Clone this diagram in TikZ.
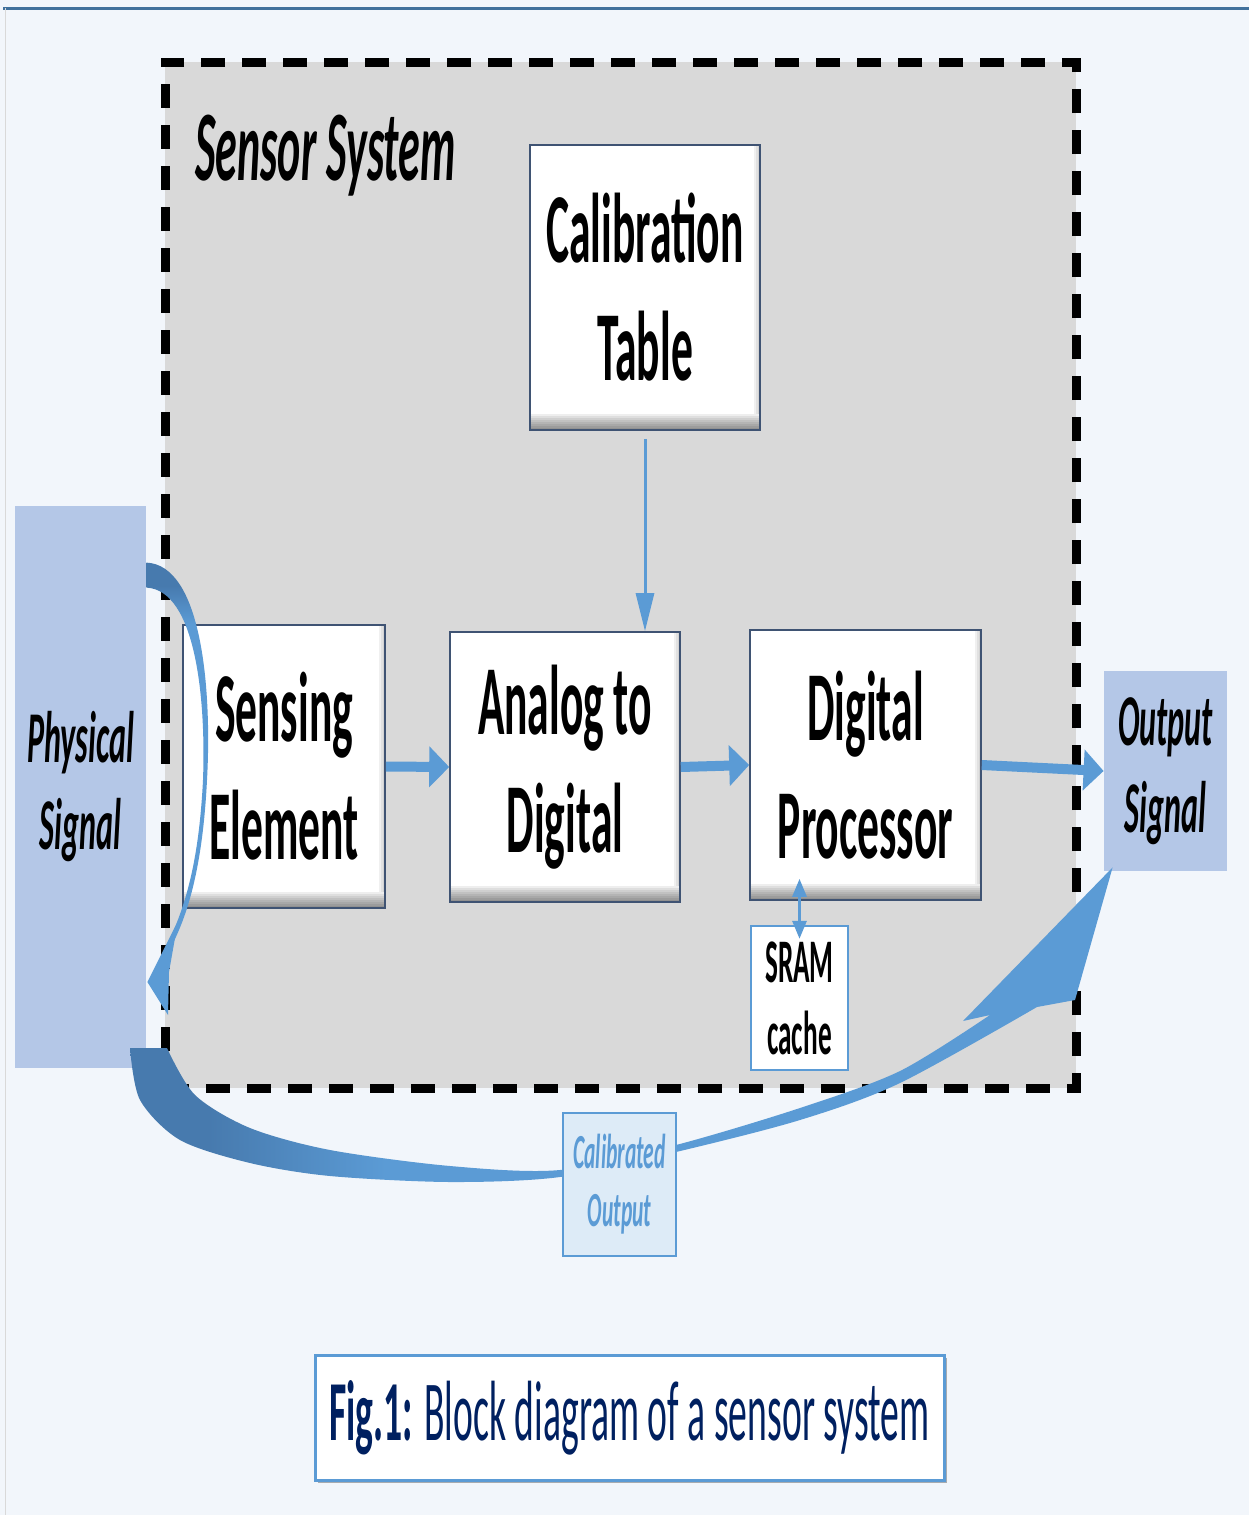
\documentclass[tikz,border=0pt]{standalone}
\usepackage{fontspec}
\setmainfont{Carlito}
\newfontfamily\narrowfont[FakeStretch=0.44]{Carlito}
\usepackage{tikz}
\usetikzlibrary{calc}
\usetikzlibrary{arrows.meta,shadows}

\definecolor{pagebg}{HTML}{F2F6FB}
\definecolor{edgeblue}{HTML}{41719C}
\definecolor{sysgray}{HTML}{D9D9D9}
\definecolor{signalblue}{HTML}{B4C7E7}
\definecolor{arrowblue}{HTML}{5B9BD5}
\definecolor{darkarrow}{HTML}{477AAE}
\definecolor{paleblue}{HTML}{DDEBF7}
\definecolor{navy}{HTML}{002060}
\definecolor{boxline}{HTML}{3F5373}

% dark start of the two feedback arrows
\pgfdeclarehorizontalshading{swoosh}{100bp}{color(0bp)=(darkarrow); color(29bp)=(darkarrow); color(38bp)=(arrowblue); color(100bp)=(arrowblue)}
\pgfdeclareverticalshading{hook}{100bp}{color(0bp)=(arrowblue); color(67bp)=(arrowblue); color(72bp)=(darkarrow); color(100bp)=(darkarrow)}

\begin{document}
\begin{tikzpicture}[x=0.5pt,y=-0.5pt]
	\tikzset{block/.style={draw=boxline,line width=0.8pt,fill=white,align=center,inner sep=0pt,
	    font=\narrowfont\bfseries\fontsize{49.5}{59}\selectfont,
	    path picture={
	      \foreach \k in {1,...,8}
	        \fill[black,opacity=0.065] ([yshift=\k pt]path picture bounding box.south west) rectangle (path picture bounding box.south east);
	      \foreach \k in {1,...,3}
	        \fill[black,opacity=0.06] ([xshift=-\k pt]path picture bounding box.north east) rectangle ([yshift=8pt]path picture bounding box.south east);}}}
	\tikzset{signal/.style={fill=signalblue,align=center,inner sep=0pt,
	    font=\narrowfont\bfseries\itshape\fontsize{36.5}{43.5}\selectfont}}
	\tikzset{fat/.style={arrowblue,line width=5pt,-{Triangle[length=10pt,width=20pt]}}}
	\tikzset{feed/.style={arrowblue,line width=1.5pt,-{Triangle[length=19pt,width=9pt]}}}
	\tikzset{link/.style={arrowblue,line width=1.5pt,{Triangle[length=9pt,width=7pt]}-{Triangle[length=9pt,width=7pt]}}}

	% page
	\useasboundingbox (0,0) rectangle (1249,1515);
	\fill[pagebg] (0,0) rectangle (1249,1515);
	\draw[edgeblue,line width=1.5pt] (3,8) -- (1249,8);
	\draw[black!15,line width=0.5pt] (5,8) -- (5,1515);

	% vertices
	\node[draw=black,fill=sysgray,line width=4.5pt,dash pattern=on 12pt off 8.5pt,
	    minimum width=455.5pt,minimum height=513pt,inner sep=0pt] (sys) at (620.5,575) {};
	\node[anchor=base west,inner sep=0pt,
	    font=\narrowfont\bfseries\itshape\fontsize{50}{60}\selectfont] (title) at (195,180) {Sensor System};
	\node[block,minimum width=115pt,minimum height=142.5pt] (calib) at (645,287.5) {Calibration\\Table};
	\node[block,minimum width=101pt,minimum height=141.5pt] (sense) at (284,766.5) {Sensing\\Element};
	\node[block,minimum width=115pt,minimum height=135pt] (adc) at (565,767) {Analog to\\Digital};
	\node[block,minimum width=115.5pt,minimum height=135pt] (dsp) at (865.5,765) {Digital\\Processor};
	\node[draw=arrowblue,line width=1.2pt,fill=white,align=center,inner sep=0pt,
	    minimum width=48.5pt,minimum height=72pt,
	    font=\narrowfont\bfseries\fontsize{31}{36}\selectfont] (sram) at (799.5,998) {SRAM\\cache};
	\node[signal,minimum width=65.5pt,minimum height=281pt] (phys) at (80.5,787) {Physical\\Signal};
	\node[signal,minimum width=61.5pt,minimum height=100pt] (out) at (1165.5,771) {Output\\Signal};

	% edges
	\draw[fat] (sense.east) -- (adc.west);
	\draw[fat] (adc.east) -- (dsp.west);
	\draw[fat] (dsp.east) -- (out.west);
	\draw[feed] ([yshift=-4pt]calib.south) -- (calib.south |- adc.north);
	\draw[link] ([yshift=11pt]dsp.south -| sram.north) -- ([yshift=-7pt]sram.north);

	% loop back into the physical signal
	\shade[shading=hook] ($(phys.north east)+(0,57)$) .. controls (202,565) and (212,690) .. (207,780)
	    .. controls (203,860) and (190,910) .. (172,945) -- (168,943)
	    .. controls (186,905) and (199,860) .. (203,780)
	    .. controls (206,700) and (196,590) .. ($(phys.north east)+(0,82)$) -- cycle;
	\fill[arrowblue] ($(phys.east)+(1,195)$) -- (178,921) -- (169,972) -- (168,1015) -- cycle;

	% calibrated path to the output
	\shade[shading=swoosh] plot[smooth] coordinates {(130,1048) (140,1100) (180,1140) (250,1163) (330,1176)
	    (450,1182) (560,1177) (676,1152) (800,1120) (900,1083) (1037,1007)}
	    -- (1075,1000) -- ($(out.south west)+(9,-4)$) -- (963,1021) -- (990,1015)
	    -- plot[smooth] coordinates {(990,1015) (900,1071) (800,1108) (676,1145) (560,1170) (450,1166)
	    (330,1150) (250,1128) (195,1095) (167,1048)} -- cycle;
	\node[draw=arrowblue,line width=1pt,fill=paleblue,text=arrowblue,align=center,inner sep=0pt,
	    minimum width=56.5pt,minimum height=71.5pt,
	    font=\narrowfont\bfseries\itshape\fontsize{24.5}{29}\selectfont] (calout) at (619.5,1184.5) {Calibrated\\Output};

	% caption
	\node[draw=arrowblue,line width=1.5pt,fill=white,inner sep=0pt,minimum width=314.5pt,minimum height=62.5pt,
	    text=navy,font=\narrowfont\fontsize{42.75}{50}\selectfont,
	    drop shadow={shadow xshift=1.5pt,shadow yshift=-1.5pt,opacity=0.3,fill=black}] (caption) at (629.5,1417.5)
	    {\textbf{Fig.1:} Block diagram of a sensor system};
\end{tikzpicture}
\end{document}
